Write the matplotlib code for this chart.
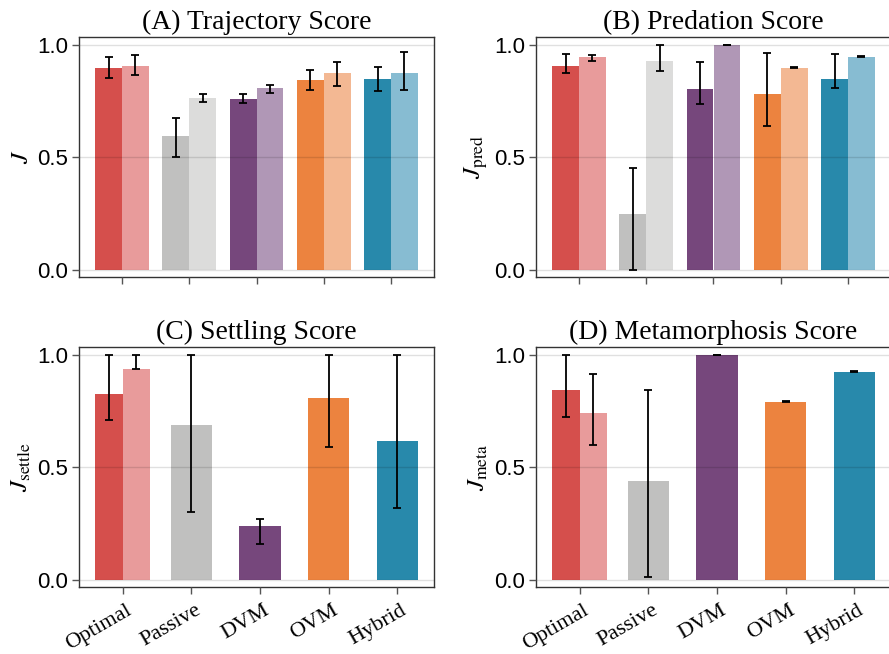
import numpy as np
from matplotlib import pyplot as plt

# categories and colours (dark = first run, light = second run)
categories = ["Optimal", "Passive", "DVM", "OVM", "Hybrid"]
dark_colors = ["#d54f4c", "#c0c0bf", "#76477c", "#ec833f", "#2889ab"]
light_colors = ["#e89b9b", "#dcdcdb", "#b097b6", "#f3b893", "#87bcd2"]

# (A) trajectory score, two bars per category
traj_dark = [0.896, 0.594, 0.761, 0.844, 0.847]
traj_dark_lo = [0.855, 0.501, 0.741, 0.801, 0.794]
traj_dark_hi = [0.947, 0.676, 0.782, 0.890, 0.902]
traj_light = [0.905, 0.763, 0.809, 0.876, 0.874]
traj_light_lo = [0.865, 0.745, 0.788, 0.819, 0.800]
traj_light_hi = [0.956, 0.784, 0.821, 0.924, 0.970]

# (B) predation score
pred_dark = [0.908, 0.249, 0.803, 0.782, 0.850]
pred_dark_lo = [0.874, 0.0, 0.736, 0.640, 0.810]
pred_dark_hi = [0.959, 0.455, 0.926, 0.964, 0.959]
pred_light = [0.944, 0.930, 1.0, 0.899, 0.948]
pred_light_lo = [0.929, 0.886, 0.999, 0.898, 0.947]
pred_light_hi = [0.957, 1.0, 1.0, 0.900, 0.949]

# (C) settling score, one bar per category + second optimal bar
settle = [0.827, 0.688, 0.242, 0.809, 0.619]
settle_lo = [0.709, 0.301, 0.158, 0.591, 0.322]
settle_hi = [1.0, 1.0, 0.273, 1.0, 1.0]
settle_opt2 = [0.936, 0.959, 1.0]   # value, low, high

# (D) metamorphosis score
meta = [0.845, 0.442, 1.0, 0.792, 0.926]
meta_lo = [0.725, 0.015, 0.999, 0.791, 0.925]
meta_hi = [1.0, 0.842, 1.0, 0.793, 0.927]
meta_opt2 = [0.743, 0.600, 0.917]

serif = "Liberation Serif"
sans = "Liberation Sans"
plt.rcParams["mathtext.fontset"] = "stix"

fig = plt.figure(figsize=(8.89, 6.54), dpi=100)
W, H = 889, 654
def box(l, t, r, b):
    return [l / W, (H - b) / H, (r - l) / W, (b - t) / H]

ax_a = fig.add_axes(box(79, 37, 434, 277))
ax_b = fig.add_axes(box(536, 37, 891, 277))
ax_c = fig.add_axes(box(79, 347, 434, 587))
ax_d = fig.add_axes(box(536, 347, 891, 587))

x = np.arange(1, 6)
eb = dict(fmt="none", ecolor="black", elinewidth=1.3, capsize=3.2, capthick=1.3, zorder=4)


def errs(v, lo, hi):
    v, lo, hi = np.array(v), np.array(lo), np.array(hi)
    return np.vstack([np.clip(v - lo, 0, None), np.clip(hi - v, 0, None)])


def style(ax, title, ylabel, labels):
    ax.set_ylim(-0.031, 1.035)
    ax.set_yticks([0, 0.5, 1.0])
    ax.set_yticklabels(["0.0", "0.5", "1.0"], fontfamily=sans, fontsize=16)
    ax.set_xticks(x)
    ax.set_xticklabels([])
    if labels:
        # rotated category names, nudged right of their ticks like the original
        for xi, name in zip(x, categories):
            ax.annotate(name, xy=(xi, 0), xycoords=ax.get_xaxis_transform(),
                        xytext=(2.5, -10), textcoords="offset points",
                        fontfamily=serif, fontsize=16, rotation=30,
                        ha="right", va="top", rotation_mode="anchor",
                        annotation_clip=False)
    ax.grid(axis="y", color="black", alpha=0.12, linewidth=1)
    ax.set_axisbelow(False)
    ax.tick_params(axis="both", length=5, width=1, color="#555555")
    ax.tick_params(axis="y", pad=3)
    for s in ax.spines.values():
        s.set_color("#333333")
        s.set_linewidth(1)
    ax.set_title(title, fontfamily=serif, fontsize=20, pad=6)
    ax.set_ylabel(ylabel, fontsize=18, labelpad=3)


# paired bars for A and B
for ax, d, dlo, dhi, l, llo, lhi in [
        (ax_a, traj_dark, traj_dark_lo, traj_dark_hi, traj_light, traj_light_lo, traj_light_hi),
        (ax_b, pred_dark, pred_dark_lo, pred_dark_hi, pred_light, pred_light_lo, pred_light_hi)]:
    ax.bar(x - 0.2, d, width=0.4, color=dark_colors, zorder=2)
    ax.bar(x + 0.2, l, width=0.4, color=light_colors, zorder=2)
    ax.errorbar(x - 0.2, d, yerr=errs(d, dlo, dhi), **eb)
    ax.errorbar(x + 0.2, l, yerr=errs(l, llo, lhi), **eb)
    ax.set_xlim(0.36, 5.64)

# single bars for C and D (optimal split in two)
for ax, v, lo, hi, opt2 in [(ax_c, settle, settle_lo, settle_hi, settle_opt2),
                            (ax_d, meta, meta_lo, meta_hi, meta_opt2)]:
    xs = np.array([0.8, 2, 3, 4, 5])
    ws = [0.4, 0.6, 0.6, 0.6, 0.6]
    ax.bar(xs, v, width=ws, color=dark_colors, zorder=2)
    ax.bar([1.2], [opt2[0]], width=0.4, color=light_colors[0], zorder=2)
    ax.errorbar(xs, v, yerr=errs(v, lo, hi), **eb)
    ax.errorbar([1.2], [opt2[0]], yerr=errs([opt2[0]], [opt2[1]], [opt2[2]]), **eb)
    ax.set_xlim(0.365, 5.535)

style(ax_a, "(A) Trajectory Score", r"$J$", False)
style(ax_b, "(B) Predation Score", r"$J_{\mathrm{pred}}$", False)
style(ax_c, "(C) Settling Score", r"$J_{\mathrm{settle}}$", True)
style(ax_d, "(D) Metamorphosis Score", r"$J_{\mathrm{meta}}$", True)

fig.savefig("out.png", dpi=100)
